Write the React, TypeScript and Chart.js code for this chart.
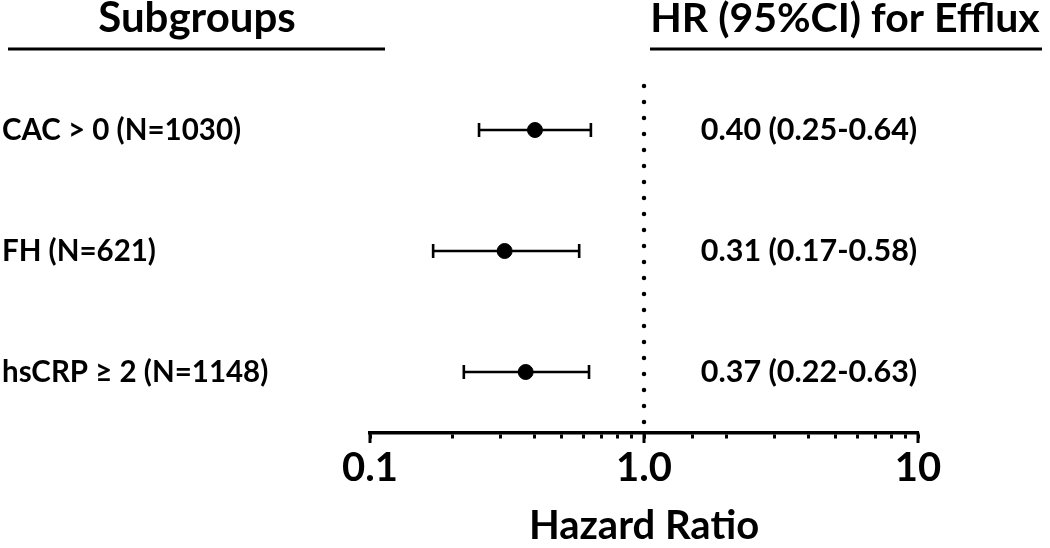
import React, { useEffect, useRef } from 'react';
import { Chart, registerables } from 'chart.js';

Chart.register(...registerables);

const subgroups = ['CAC > 0 (N=1030)', 'FH (N=621)', 'hsCRP ≥ 2 (N=1148)'];
const hazardRatios = [0.4, 0.31, 0.37];
const lowerCI = [0.25, 0.17, 0.22];
const upperCI = [0.64, 0.58, 0.63];
const hrLabels = ['0.40 (0.25-0.64)', '0.31 (0.17-0.58)', '0.37 (0.22-0.63)'];
const majorTicks = [0.1, 1, 10];
const majorTickLabels = ['0.1', '1.0', '10'];
const referenceValue = 1;

const FONT = 'Lato, "Open Sans", sans-serif';

const forestPlugin = {
  id: 'forestPlugin',
  beforeDatasetsDraw(chart: any) {
    const { ctx, scales, chartArea } = chart;
    const x = scales.x;
    const y = scales.y;
    ctx.save();
    // dotted reference line
    const rx = x.getPixelForValue(referenceValue);
    ctx.strokeStyle = '#000';
    ctx.lineWidth = 4.5;
    ctx.lineCap = 'round';
    ctx.setLineDash([0, 16]);
    ctx.beginPath();
    ctx.moveTo(rx, chartArea.top + 16.5);
    ctx.lineTo(rx, chartArea.bottom);
    ctx.stroke();
    ctx.setLineDash([]);
    ctx.lineCap = 'butt';

    // major tick extension
    ctx.lineWidth = 3;
    majorTicks.forEach((v) => {
      const px = x.getPixelForValue(v);
      ctx.beginPath();
      ctx.moveTo(px, chartArea.bottom);
      ctx.lineTo(px, chartArea.bottom + 10.5);
      ctx.stroke();
    });

    // error bars
    ctx.lineWidth = 2.6;
    subgroups.forEach((_, i) => {
      const py = y.getPixelForValue(i);
      const x1 = x.getPixelForValue(lowerCI[i]);
      const x2 = x.getPixelForValue(upperCI[i]);
      ctx.beginPath();
      ctx.moveTo(x1, py);
      ctx.lineTo(x2, py);
      ctx.moveTo(x1, py - 7);
      ctx.lineTo(x1, py + 7);
      ctx.moveTo(x2, py - 7);
      ctx.lineTo(x2, py + 7);
      ctx.stroke();
    });

    // texts
    ctx.fillStyle = '#000';
    ctx.textBaseline = 'middle';
    subgroups.forEach((s, i) => {
      const py = y.getPixelForValue(i);
      ctx.font = `bold 29.5px ${FONT}`;
      ctx.textAlign = 'left';
      ctx.fillText(s, 2, py);
      ctx.font = `bold 30.5px ${FONT}`;
      ctx.textAlign = 'center';
      ctx.fillText(hrLabels[i], 809, py);
    });

    // headers
    ctx.textBaseline = 'alphabetic';
    ctx.textAlign = 'center';
    ctx.font = `bold 42px ${FONT}`;
    ctx.fillText('Subgroups', 197, 32);
    ctx.font = `bold 41px ${FONT}`;
    ctx.fillText('HR (95%CI) for Efflux', 845, 32);
    ctx.lineWidth = 3;
    ctx.beginPath();
    ctx.moveTo(8, 49);
    ctx.lineTo(385, 49);
    ctx.moveTo(650, 49);
    ctx.lineTo(1042, 49);
    ctx.stroke();
    ctx.restore();
  },
};

export default function App() {
  const canvasRef = useRef<HTMLCanvasElement | null>(null);

  useEffect(() => {
    if (!canvasRef.current) return;
    const chart = new Chart(canvasRef.current, {
      type: 'scatter',
      data: {
        datasets: [
          {
            label: 'HR',
            data: hazardRatios.map((v, i) => ({ x: v, y: i })),
            backgroundColor: '#000',
            borderColor: '#000',
            pointRadius: 7.5,
            pointHoverRadius: 7.5,
          },
        ],
      },
      options: {
        animation: false,
        responsive: true,
        maintainAspectRatio: false,
        layout: { padding: { left: 370, right: 132, top: 69.5, bottom: 0 } },
        plugins: { legend: { display: false }, tooltip: { enabled: false } },
        scales: {
          x: {
            type: 'logarithmic',
            min: 0.1,
            max: 10,
            afterFit: (scale: any) => {
              scale.height = 115.5;
            },
            border: { display: true, color: '#000', width: 3.5 },
            grid: { drawOnChartArea: false, color: '#000', tickLength: 6, tickWidth: 3 },
            ticks: {
              autoSkip: false,
              maxRotation: 0,
              padding: 6,
              color: '#000',
              font: { family: FONT, size: 40, weight: 'bold' },
              callback: (v: any) => {
                const idx = majorTicks.findIndex((m) => Math.abs(m - Number(v)) < 1e-9);
                return idx >= 0 ? majorTickLabels[idx] : '';
              },
            },
            title: {
              display: true,
              text: 'Hazard Ratio',
              color: '#000',
              font: { family: FONT, size: 40, weight: 'bold', lineHeight: 0.9 },
              padding: { top: 0, bottom: 4 },
            },
          },
          y: {
            type: 'linear',
            display: false,
            reverse: true,
            min: -0.5,
            max: 2.5,
          },
        },
      },
      plugins: [forestPlugin],
    });
    return () => chart.destroy();
  }, []);

  return (
    <div style={{ position: 'fixed', left: 0, top: 0, width: 1050, height: 548, background: '#fff' }}>
      <canvas ref={canvasRef} />
    </div>
  );
}
